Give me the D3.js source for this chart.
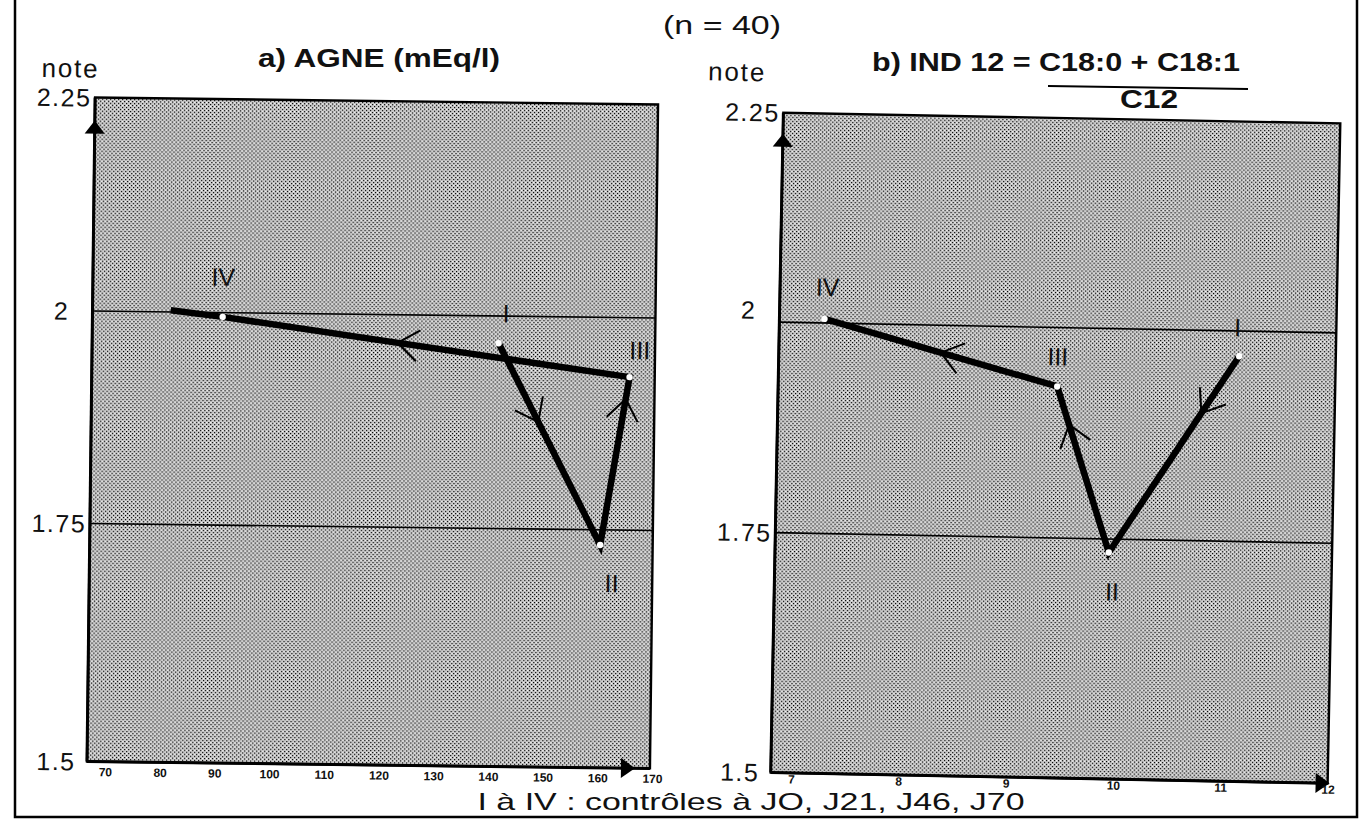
<!DOCTYPE html>
<html>
<head>
<meta charset="utf-8">
<script src="https://cdn.jsdelivr.net/npm/d3@7"></script>
<style>
  html, body { margin: 0; padding: 0; background: #fff; }
  svg { display: block; }
  text { font-family: "Liberation Sans", Arial, Helvetica, sans-serif; fill: #111; }
</style>
</head>
<body>
<svg id="chart" width="1368" height="827"></svg>
<script>
// Control stages, in sampling order (J0, J21, J46, J70)
const stages = ["I", "II", "III", "IV"];

// a) free fatty acids (AGNE, mEq/l) against the mean score
const agneValue = [141, 160, 165, 90.5];
const agneNote  = [1.968, 1.734, 1.930, 1.995];
// the drawn trace runs on a little past stage IV
const agneTailValue = 81;
const agneTailNote  = 2.002;
const agneTicks = [70, 80, 90, 100, 110, 120, 130, 140, 150, 160, 170];

// b) IND 12 ratio against the mean score
const indValue = [11.1, 9.92, 9.41, 7.23];
const indNote  = [1.970, 1.736, 1.930, 2.005];
const indTicks = [7, 8, 9, 10, 11, 12];

// score axis
const noteTicks = [1.5, 1.75, 2, 2.25];
const noteTickLabels = ["1.5", "1.75", "2", "2.25"];
const noteGrid = [1.75, 2];

const svg = d3.select("#chart");

// halftone screen used for the plot areas
const defs = svg.append("defs");
const pat = defs.append("pattern")
  .attr("id", "halftone").attr("patternUnits", "userSpaceOnUse")
  .attr("width", 4).attr("height", 4);
pat.append("rect").attr("width", 4).attr("height", 4).attr("fill", "#cdcdcd");
pat.append("rect").attr("x", 0).attr("y", 0).attr("width", 1.2).attr("height", 1.2).attr("fill", "#000");
pat.append("rect").attr("x", 2).attr("y", 2).attr("width", 1.2).attr("height", 1.2).attr("fill", "#000");
pat.append("rect").attr("x", 2).attr("y", 0).attr("width", 1).attr("height", 1).attr("fill", "#fff");

// outer frame
svg.append("path")
  .attr("d", "M15,-2 V817 H1357 V-2")
  .attr("fill", "none").attr("stroke", "#000").attr("stroke-width", 2.5);

// subtitle
svg.append("text").attr("x", 722).attr("y", 34).attr("text-anchor", "middle")
  .attr("font-size", 26).attr("textLength", 118).attr("lengthAdjust", "spacingAndGlyphs")
  .text("(n = 40)");

// caption
svg.append("text").attr("x", 751).attr("y", 810).attr("text-anchor", "middle")
  .attr("font-size", 24).attr("textLength", 547).attr("lengthAdjust", "spacingAndGlyphs")
  .text("I à IV : contrôles à JO, J21, J46, J70");

const panels = [
  {
    values: agneValue, notes: agneNote, ticks: agneTicks,
    tail: [agneTailValue, agneTailNote],
    xDomain: [66.7, 169.6], xRange: [91, 654],
    yRange: [765, 527, 314.5, 101],
    angle: 0.7, center: [373, 435],
    notePos: [66, 81], tickPad: 6, twoShift: 0,
    arrowAt: [0.39, 0.87, 0.57],
    labelOffset: [[7, -30], [12, 38], [10, -27], [0, -40]],
    upArrowY: 124, rightArrowX: 639
  },
  {
    values: indValue, notes: indNote, ticks: indTicks,
    tail: null,
    xDomain: [6.81, 12.0], xRange: [777, 1334],
    yRange: [778, 538, 327.5, 118],
    angle: 1.1, center: [1056, 448],
    notePos: [730, 87], tickPad: 2, twoShift: -12,
    arrowAt: [0.29, 0.77, 0.50],
    labelOffset: [[-2, -29], [4, 39], [0, -30], [2.5, -32]],
    upArrowY: 139, rightArrowX: 1336
  }
];

panels.forEach(p => {
  const x = d3.scaleLinear().domain(p.xDomain).range(p.xRange);
  const y = d3.scaleLinear().domain(noteTicks).range(p.yRange);
  const g = svg.append("g")
    .attr("transform", `rotate(${p.angle},${p.center[0]},${p.center[1]})`);

  const x0 = x(p.xDomain[0]), x1 = x(p.xDomain[1]);
  const yTop = y(2.25), yBot = y(1.5);

  // plot area
  g.append("rect")
    .attr("x", x0).attr("y", yTop).attr("width", x1 - x0).attr("height", yBot - yTop)
    .attr("fill", "url(#halftone)")
    .attr("stroke", "#000").attr("stroke-width", 2.4);

  // horizontal reference lines
  g.selectAll(".grid").data(noteGrid).join("line")
    .attr("x1", x0).attr("x2", x1)
    .attr("y1", d => y(d)).attr("y2", d => y(d))
    .attr("stroke", "#000").attr("stroke-width", 1.6);

  // axis lines
  g.append("line").attr("x1", x0).attr("x2", x0).attr("y1", yTop).attr("y2", yBot)
    .attr("stroke", "#000").attr("stroke-width", 3);
  g.append("line").attr("x1", x0).attr("x2", x1).attr("y1", yBot).attr("y2", yBot)
    .attr("stroke", "#000").attr("stroke-width", 3);

  // axis arrowheads
  g.append("path")
    .attr("d", `M${x0},${p.upArrowY} l-10,13 h20 z`).attr("fill", "#000");
  g.append("path")
    .attr("d", `M${p.rightArrowX},${yBot} l-14,-10 v20 z`).attr("fill", "#000");

  // x tick labels
  const xAxis = d3.axisBottom(x).tickValues(p.ticks).tickSize(0).tickPadding(p.tickPad)
    .tickFormat(d3.format("d"));
  const xa = g.append("g").attr("transform", `translate(0,${yBot})`).call(xAxis);
  xa.select(".domain").remove();
  xa.selectAll("text").attr("font-size", 12).attr("font-weight", "bold")
    .attr("font-family", "'Liberation Sans', Arial, sans-serif").attr("fill", "#111");

  // y tick labels, centred in the margin
  g.selectAll(".ylab").data(noteTicks).join("text")
    .attr("x", x0 - 31).attr("y", d => y(d) + (d === 2 ? p.twoShift : 0)).attr("dy", "0.36em")
    .attr("text-anchor", "middle").attr("font-size", 25).attr("letter-spacing", 1.5)
    .text((d, i) => noteTickLabels[i]);

  g.append("text").attr("x", p.notePos[0]).attr("y", p.notePos[1])
    .attr("text-anchor", "middle").attr("font-size", 26).attr("letter-spacing", 1.8)
    .text("note");

  // trajectory I -> II -> III -> IV
  const pts = p.values.map((v, i) => [x(v), y(p.notes[i])]);
  const linePts = p.tail ? pts.concat([[x(p.tail[0]), y(p.tail[1])]]) : pts;
  g.append("path")
    .attr("d", d3.line()(linePts))
    .attr("fill", "none").attr("stroke", "#000").attr("stroke-width", 6.5)
    .attr("stroke-linejoin", "miter").attr("stroke-miterlimit", 10);

  // direction chevrons along each segment
  const L = 26, half = 37 * Math.PI / 180;
  p.arrowAt.forEach((f, i) => {
    const a = pts[i], b = pts[i + 1];
    const ax = a[0] + f * (b[0] - a[0]), ay = a[1] + f * (b[1] - a[1]);
    const ang = Math.atan2(b[1] - a[1], b[0] - a[0]) + Math.PI;
    const p1 = [ax + L * Math.cos(ang + half), ay + L * Math.sin(ang + half)];
    const p2 = [ax + L * Math.cos(ang - half), ay + L * Math.sin(ang - half)];
    g.append("path")
      .attr("d", `M${p1[0]},${p1[1]} L${ax},${ay} L${p2[0]},${p2[1]}`)
      .attr("fill", "none").attr("stroke", "#000").attr("stroke-width", 2);
  });

  // stage markers
  g.selectAll(".dot").data(pts).join("circle")
    .attr("cx", d => d[0]).attr("cy", d => d[1]).attr("r", 3.2).attr("fill", "#fff");

  // stage labels
  g.selectAll(".stage").data(pts).join("text")
    .attr("x", (d, i) => d[0] + p.labelOffset[i][0])
    .attr("y", (d, i) => d[1] + p.labelOffset[i][1])
    .attr("dy", "0.36em").attr("text-anchor", "middle")
    .attr("font-size", 25).text((d, i) => stages[i]);
});

// panel titles
svg.append("text").attr("x", 379).attr("y", 67).attr("text-anchor", "middle")
  .attr("font-size", 25).attr("font-weight", "bold")
  .attr("textLength", 242).attr("lengthAdjust", "spacingAndGlyphs")
  .text("a) AGNE (mEq/l)");

svg.append("text").attr("x", 872).attr("y", 71)
  .attr("font-size", 25).attr("font-weight", "bold")
  .attr("textLength", 368).attr("lengthAdjust", "spacingAndGlyphs")
  .text("b) IND 12 = C18:0 + C18:1");
svg.append("line").attr("x1", 1048).attr("x2", 1248).attr("y1", 86).attr("y2", 89)
  .attr("stroke", "#000").attr("stroke-width", 2);
svg.append("text").attr("x", 1149).attr("y", 108).attr("text-anchor", "middle")
  .attr("font-size", 25).attr("font-weight", "bold")
  .attr("textLength", 58).attr("lengthAdjust", "spacingAndGlyphs").text("C12");
</script>
</body>
</html>
